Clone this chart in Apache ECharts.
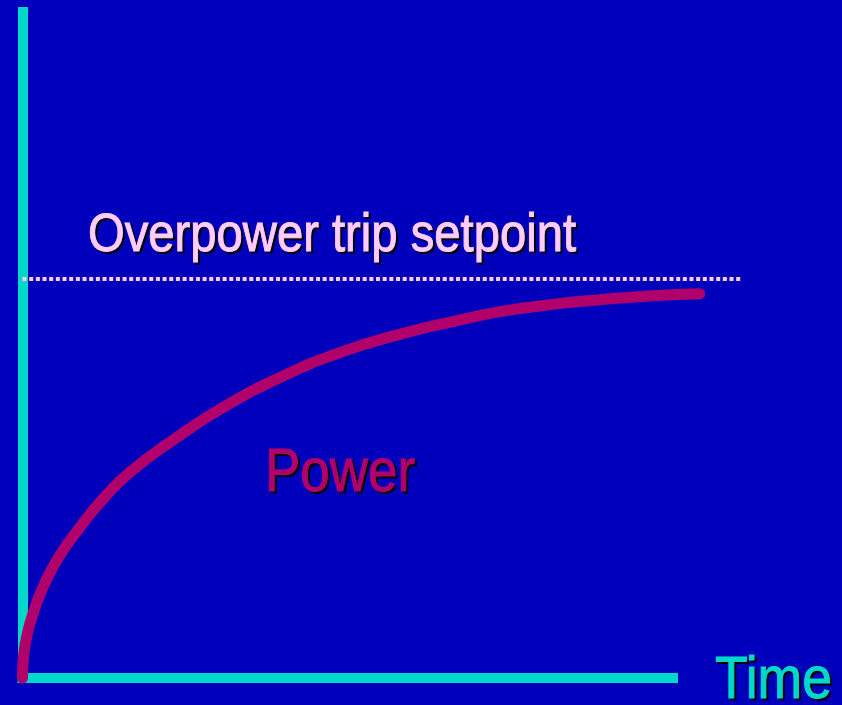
<!DOCTYPE html>
<html>
<head>
<meta charset="utf-8">
<script src="https://cdn.jsdelivr.net/npm/echarts@6/dist/echarts.min.js"></script>
<style>
  html, body { margin: 0; padding: 0; background: #0000bc; }
  #chart { width: 842px; height: 705px; }
</style>
</head>
<body>
<div id="chart"></div>
<script>
// ---- data ----
var powerTime  = [0, 0.2, 0.8, 1.6, 3.1, 5.4, 8.5, 12.3, 16.9, 23.1, 30.8, 40.0, 49.2, 58.0, 66.1, 73.4, 81.5, 88.8, 96.9, 104.1];
var powerValue = [0, 3.6, 6.9, 9.6, 13.5, 17.9, 22.2, 26.8, 31.2, 35.7, 40.6, 45.3, 49.0, 51.6, 53.5, 55.0, 56.1, 56.8, 57.4, 57.7];
var setpointTime  = [0, 110.6];
var setpointValue = [59.9, 59.9];
var labels = { setpoint: 'Overpower trip setpoint', power: 'Power', time: 'Time' };

var BG = '#0000bc', CYAN = '#00d9c9', MAGENTA = '#b2006a', PINK = '#ffccff';
var FONT_FAMILY = '"Liberation Sans Narrow", "Arial Narrow", "Liberation Sans", Arial, sans-serif';

function zip(a, b) { return a.map(function (v, i) { return [v, b[i]]; }); }

var mctx = document.createElement('canvas').getContext('2d');
function fitScale(text, size, target) {
  mctx.font = size + 'px ' + FONT_FAMILY;
  return target / mctx.measureText(text).width;
}

function label(text, x, yMid, size, color, targetWidth) {
  var sx = fitScale(text, size, targetWidth);
  var mk = function (dx, dy, fill, z) {
    return {
      type: 'text', x: x + dx, y: yMid + dy, scaleX: sx, originX: 0, z: z,
      style: { text: text, fill: fill, stroke: fill, lineWidth: 1,
               font: size + 'px ' + FONT_FAMILY, align: 'left', verticalAlign: 'middle' }
    };
  };
  return [mk(2, 2, '#000000', 10), mk(0, 0, color, 11)];
}

var chart = echarts.init(document.getElementById('chart'), null, { renderer: 'canvas' });
var hidden = {
  axisLine: { show: false }, axisTick: { show: false }, axisLabel: { show: false }, splitLine: { show: false }
};
var shown = {
  axisLine: { show: true, onZero: false, lineStyle: { color: CYAN, width: 10, cap: 'square' } },
  axisTick: { show: false }, axisLabel: { show: false }, splitLine: { show: false }
};
var X_MAX_VISIBLE = 100, X_MAX_DRAW = 112, PX_PER_X = 6.505;
chart.setOption({
  backgroundColor: BG,
  animation: false,
  grid: [
    { left: 22.5, right: 169, top: 12, bottom: 27 },
    { left: 22.5, right: 842 - 22.5 - X_MAX_DRAW * PX_PER_X, top: 12, bottom: 27 }
  ],
  xAxis: [
    Object.assign({ type: 'value', min: 0, max: X_MAX_VISIBLE, gridIndex: 0 }, shown),
    Object.assign({ type: 'value', min: 0, max: X_MAX_DRAW, gridIndex: 1 }, hidden)
  ],
  yAxis: [
    Object.assign({ type: 'value', min: 0, max: 100, gridIndex: 0 }, shown),
    Object.assign({ type: 'value', min: 0, max: 100, gridIndex: 1 }, hidden)
  ],
  series: [
    {
      type: 'line', xAxisIndex: 1, yAxisIndex: 1,
      data: zip(setpointTime, setpointValue), symbol: 'none', clip: false, z: 3,
      lineStyle: { color: PINK, width: 4, type: [4, 2.67], cap: 'butt' }
    },
    {
      type: 'line', xAxisIndex: 1, yAxisIndex: 1,
      data: zip(powerTime, powerValue), symbol: 'none', smooth: 0.5, clip: false, z: 4,
      lineStyle: { color: MAGENTA, width: 11, cap: 'round', join: 'round' }
    }
  ],
  graphic: [].concat(
    label(labels.setpoint, 88, 236, 53, PINK, 488),
    label(labels.power, 265, 474, 61, MAGENTA, 150),
    label(labels.time, 715, 681, 60, CYAN, 117)
  )
});
</script>
</body>
</html>
